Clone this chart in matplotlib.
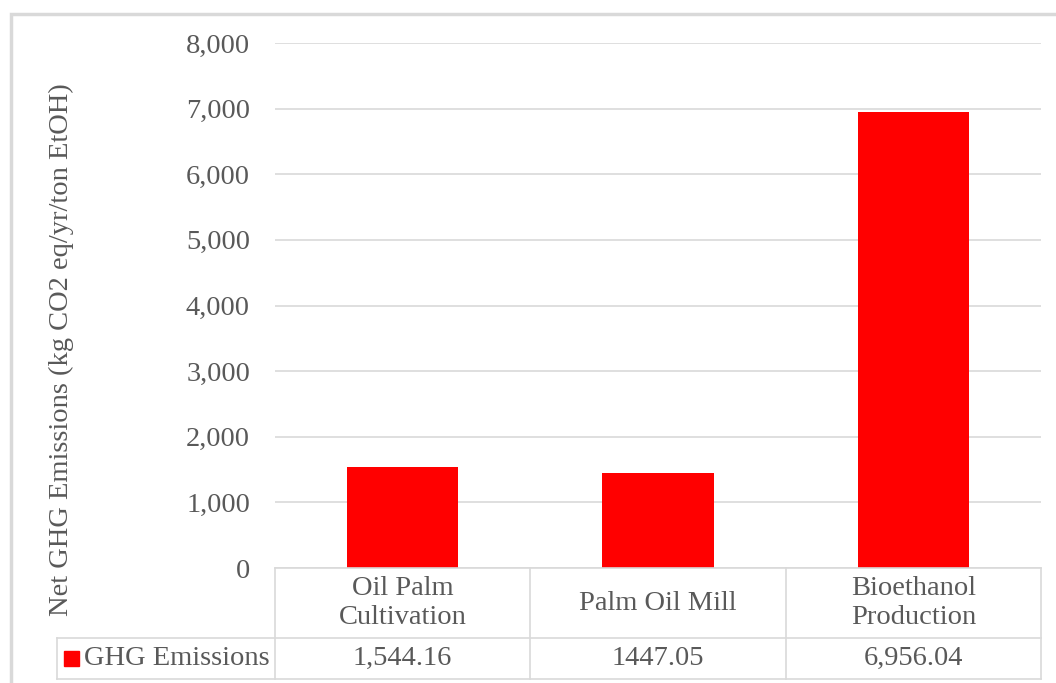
import matplotlib
matplotlib.use("Agg")
import matplotlib.pyplot as plt
from matplotlib.patches import Rectangle
from matplotlib.lines import Line2D

# Net GHG emissions per process stage
CATEGORIAS = ["Oil Palm\nCultivation", "Palm Oil Mill", "Bioethanol\nProduction"]
EMISIONES = [1544.16, 1447.05, 6956.04]
ETIQUETAS_TABLA = ["1,544.16", "1447.05", "6,956.04"]
SERIE = "GHG Emissions"
Y_TICKS = list(range(0, 8001, 1000))

ROJO = "#FF0000"
GRIS_TEXTO = "#595959"
GRIS_LINEA = "#D9D9D9"
FUENTE = "Liberation Serif"
TAM = 20.5

W, H = 1056, 683
fig = plt.figure(figsize=(W / 100, H / 100), dpi=100)


def fx(px):
    return px / W


def fy(py):
    return 1 - py / H


# Chart border
fig.add_artist(Rectangle((fx(11), fy(690)), fx(1060) - fx(11), fy(14) - fy(690),
                         transform=fig.transFigure, fill=False,
                         edgecolor=GRIS_LINEA, linewidth=2.5))

x0, x1, ytop, ybot = 275, 1041, 43, 568
ax = fig.add_axes([fx(x0), fy(ybot), fx(x1) - fx(x0), fy(ytop) - fy(ybot)])

pos = [i + 0.5 for i in range(len(CATEGORIAS))]
ax.bar(pos, EMISIONES, width=0.435, color=ROJO, zorder=3)
ax.set_xlim(0, 3)
ax.set_ylim(0, 8000)
ax.set_yticks(Y_TICKS)
ax.set_yticklabels([f"{v:,}" for v in Y_TICKS])
ax.set_xticks([])
ax.tick_params(axis="y", length=0, pad=18, labelsize=TAM, labelcolor=GRIS_TEXTO)
for lab in ax.get_yticklabels():
    lab.set_fontfamily(FUENTE)
ax.grid(axis="y", color=GRIS_LINEA, linewidth=1.2, zorder=0)
for s in ax.spines.values():
    s.set_visible(False)

ax.set_ylabel("Net GHG Emissions (kg CO2 eq/yr/ton EtOH)", fontsize=TAM,
              color=GRIS_TEXTO, fontfamily=FUENTE)
ax.yaxis.set_label_coords(fx(74), fy(350), transform=fig.transFigure)

# Data table below the plot
cols = [x0 + (x1 - x0) * i / 3 for i in range(4)]
r0, r1, r2 = 568, 638, 679
leg_x = 57


def linea(xa, ya, xb, yb):
    fig.add_artist(Line2D([fx(xa), fx(xb)], [fy(ya), fy(yb)],
                          transform=fig.transFigure, color=GRIS_LINEA, linewidth=1.2))


linea(x0, r0, x1, r0)
linea(leg_x, r1, x1, r1)
linea(leg_x, r2, x1, r2)
linea(leg_x, r1, leg_x, r2)
for c in cols:
    linea(c, r0, c, r2)

for i, (cat, val) in enumerate(zip(CATEGORIAS, ETIQUETAS_TABLA)):
    xc = (cols[i] + cols[i + 1]) / 2
    fig.text(fx(xc), fy(603), cat, ha="center", va="center",
             fontsize=TAM, color=GRIS_TEXTO, fontfamily=FUENTE, linespacing=1.25)
    fig.text(fx(xc), fy((r1 + r2) / 2), val, ha="center", va="center",
             fontsize=TAM, color=GRIS_TEXTO, fontfamily=FUENTE)

fig.add_artist(Rectangle((fx(64), fy(666)), fx(79) - fx(64), fy(651) - fy(666),
                         transform=fig.transFigure, color=ROJO))
fig.text(fx(84), fy((r1 + r2) / 2), SERIE, ha="left", va="center",
         fontsize=TAM, color=GRIS_TEXTO, fontfamily=FUENTE)

fig.savefig("out.png", dpi=100)
